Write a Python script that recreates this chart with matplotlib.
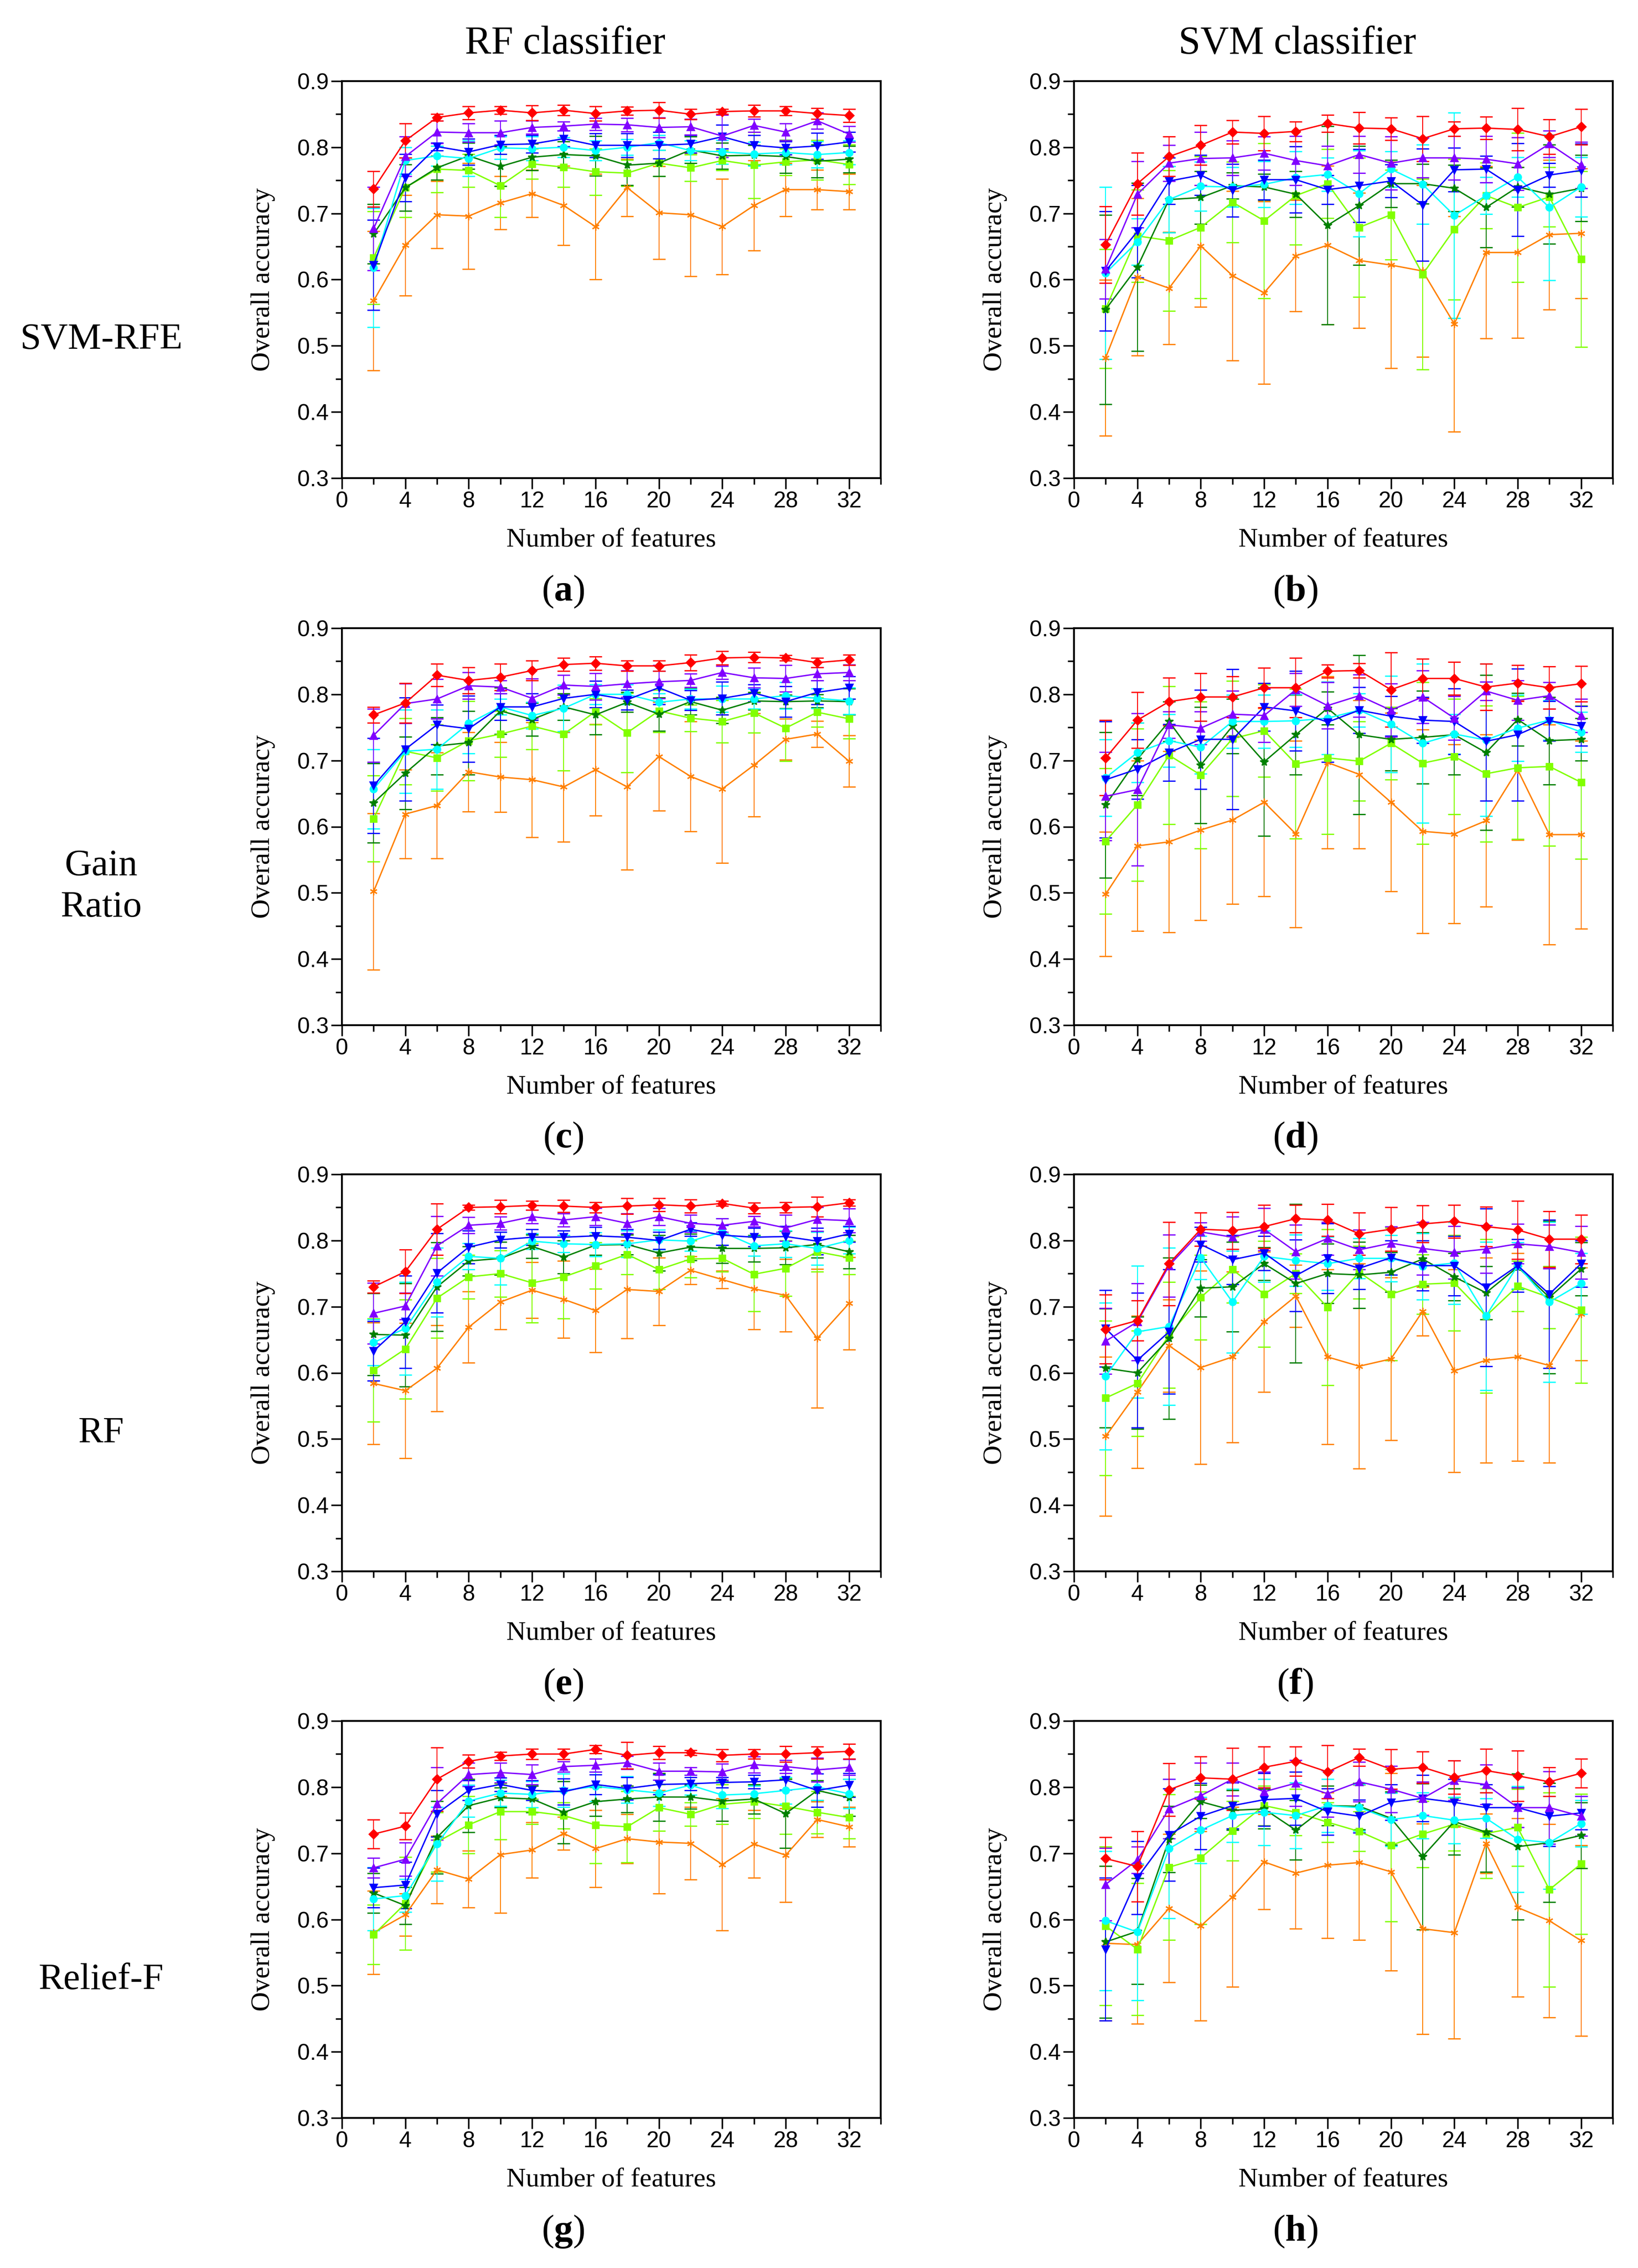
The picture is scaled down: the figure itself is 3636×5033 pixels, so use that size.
import matplotlib
matplotlib.use('Agg')
import matplotlib.pyplot as plt
from matplotlib.ticker import MultipleLocator, FormatStrFormatter

plt.rcParams['mathtext.fontset'] = 'custom'
plt.rcParams['mathtext.rm'] = 'Liberation Serif'
plt.rcParams['mathtext.bf'] = 'Liberation Serif:bold'

n_features = [2, 4, 6, 8, 10, 12, 14, 16, 18, 20, 22, 24, 26, 28, 30, 32]

# series order: red, violet, blue, cyan, green, lime, orange
acc_a = [
    [0.737, 0.810, 0.845, 0.852, 0.856, 0.852, 0.856, 0.851, 0.855, 0.856, 0.850, 0.854, 0.855, 0.855, 0.851, 0.848],
    [0.677, 0.786, 0.823, 0.822, 0.822, 0.830, 0.832, 0.835, 0.834, 0.830, 0.831, 0.817, 0.833, 0.823, 0.840, 0.820],
    [0.622, 0.754, 0.801, 0.793, 0.804, 0.805, 0.813, 0.803, 0.803, 0.803, 0.805, 0.816, 0.803, 0.799, 0.802, 0.808],
    [0.618, 0.780, 0.787, 0.783, 0.799, 0.798, 0.800, 0.795, 0.800, 0.807, 0.795, 0.793, 0.790, 0.792, 0.789, 0.792],
    [0.669, 0.739, 0.769, 0.787, 0.771, 0.785, 0.789, 0.787, 0.773, 0.776, 0.796, 0.787, 0.788, 0.786, 0.779, 0.782],
    [0.633, 0.739, 0.767, 0.765, 0.742, 0.775, 0.770, 0.763, 0.761, 0.776, 0.769, 0.780, 0.773, 0.778, 0.781, 0.774],
    [0.568, 0.652, 0.698, 0.696, 0.716, 0.730, 0.712, 0.680, 0.739, 0.701, 0.698, 0.680, 0.712, 0.736, 0.736, 0.733],
]
sd_a = [
    [0.027, 0.026, 0.005, 0.010, 0.006, 0.011, 0.008, 0.011, 0.006, 0.012, 0.008, 0.004, 0.009, 0.007, 0.008, 0.010],
    [0.063, 0.030, 0.017, 0.014, 0.018, 0.010, 0.007, 0.009, 0.010, 0.015, 0.012, 0.032, 0.010, 0.013, 0.012, 0.012],
    [0.068, 0.036, 0.006, 0.020, 0.014, 0.013, 0.012, 0.018, 0.018, 0.020, 0.013, 0.018, 0.015, 0.010, 0.020, 0.015],
    [0.090, 0.020, 0.015, 0.027, 0.017, 0.018, 0.015, 0.015, 0.012, 0.011, 0.015, 0.018, 0.018, 0.018, 0.020, 0.018],
    [0.045, 0.035, 0.018, 0.020, 0.030, 0.020, 0.020, 0.030, 0.030, 0.020, 0.020, 0.020, 0.015, 0.025, 0.025, 0.020],
    [0.070, 0.045, 0.035, 0.025, 0.048, 0.023, 0.030, 0.035, 0.020, 0.020, 0.020, 0.015, 0.050, 0.020, 0.030, 0.030],
    [0.105, 0.076, 0.051, 0.080, 0.040, 0.036, 0.060, 0.080, 0.043, 0.070, 0.093, 0.072, 0.068, 0.040, 0.030, 0.027],
]

acc_b = [
    [0.653, 0.745, 0.786, 0.803, 0.823, 0.821, 0.824, 0.836, 0.829, 0.828, 0.813, 0.828, 0.829, 0.827, 0.816, 0.831],
    [0.616, 0.729, 0.776, 0.783, 0.784, 0.791, 0.780, 0.772, 0.789, 0.776, 0.784, 0.784, 0.782, 0.775, 0.805, 0.773],
    [0.613, 0.673, 0.749, 0.758, 0.735, 0.751, 0.751, 0.736, 0.742, 0.749, 0.713, 0.766, 0.767, 0.736, 0.758, 0.765],
    [0.610, 0.657, 0.721, 0.741, 0.740, 0.744, 0.754, 0.759, 0.730, 0.767, 0.744, 0.697, 0.727, 0.755, 0.709, 0.740],
    [0.555, 0.619, 0.721, 0.724, 0.742, 0.740, 0.729, 0.682, 0.712, 0.745, 0.745, 0.738, 0.709, 0.740, 0.729, 0.738],
    [0.556, 0.666, 0.659, 0.679, 0.717, 0.689, 0.727, 0.745, 0.679, 0.698, 0.608, 0.676, 0.727, 0.709, 0.725, 0.631],
    [0.482, 0.604, 0.587, 0.651, 0.606, 0.580, 0.636, 0.652, 0.629, 0.622, 0.613, 0.533, 0.641, 0.641, 0.668, 0.670],
]
sd_b = [
    [0.058, 0.047, 0.030, 0.030, 0.018, 0.026, 0.015, 0.013, 0.024, 0.017, 0.034, 0.011, 0.017, 0.032, 0.026, 0.027],
    [0.045, 0.050, 0.027, 0.040, 0.026, 0.025, 0.037, 0.030, 0.028, 0.040, 0.030, 0.033, 0.035, 0.040, 0.020, 0.035],
    [0.090, 0.070, 0.035, 0.030, 0.040, 0.030, 0.050, 0.022, 0.055, 0.025, 0.085, 0.033, 0.020, 0.070, 0.018, 0.040],
    [0.130, 0.035, 0.050, 0.037, 0.030, 0.035, 0.040, 0.025, 0.065, 0.027, 0.060, 0.155, 0.028, 0.030, 0.110, 0.045],
    [0.143, 0.127, 0.050, 0.040, 0.020, 0.020, 0.035, 0.150, 0.090, 0.036, 0.030, 0.035, 0.060, 0.030, 0.075, 0.050],
    [0.090, 0.070, 0.106, 0.107, 0.061, 0.117, 0.074, 0.052, 0.105, 0.068, 0.144, 0.106, 0.050, 0.113, 0.045, 0.133],
    [0.118, 0.119, 0.085, 0.092, 0.128, 0.138, 0.084, 0.120, 0.102, 0.156, 0.130, 0.163, 0.130, 0.129, 0.113, 0.098],
]

acc_c = [
    [0.769, 0.787, 0.829, 0.821, 0.826, 0.836, 0.845, 0.847, 0.843, 0.843, 0.848, 0.855, 0.856, 0.855, 0.848, 0.852],
    [0.738, 0.786, 0.793, 0.813, 0.811, 0.794, 0.814, 0.812, 0.816, 0.819, 0.821, 0.833, 0.825, 0.824, 0.831, 0.833],
    [0.662, 0.717, 0.754, 0.748, 0.781, 0.781, 0.794, 0.800, 0.792, 0.810, 0.791, 0.794, 0.802, 0.789, 0.803, 0.810],
    [0.657, 0.714, 0.717, 0.756, 0.781, 0.768, 0.779, 0.800, 0.800, 0.788, 0.793, 0.793, 0.793, 0.798, 0.794, 0.790],
    [0.636, 0.681, 0.722, 0.727, 0.775, 0.762, 0.781, 0.769, 0.788, 0.770, 0.789, 0.776, 0.790, 0.789, 0.790, 0.789],
    [0.612, 0.714, 0.704, 0.730, 0.740, 0.752, 0.740, 0.774, 0.742, 0.775, 0.764, 0.759, 0.772, 0.749, 0.773, 0.763],
    [0.502, 0.619, 0.632, 0.683, 0.675, 0.671, 0.660, 0.686, 0.660, 0.706, 0.676, 0.657, 0.693, 0.732, 0.740, 0.699],
]
sd_c = [
    [0.012, 0.030, 0.017, 0.020, 0.020, 0.015, 0.010, 0.010, 0.008, 0.008, 0.012, 0.010, 0.008, 0.004, 0.007, 0.008],
    [0.040, 0.030, 0.030, 0.020, 0.010, 0.030, 0.015, 0.020, 0.020, 0.025, 0.010, 0.010, 0.015, 0.020, 0.010, 0.012],
    [0.072, 0.078, 0.030, 0.050, 0.020, 0.020, 0.015, 0.020, 0.015, 0.025, 0.015, 0.025, 0.013, 0.023, 0.018, 0.017],
    [0.060, 0.063, 0.060, 0.045, 0.012, 0.020, 0.035, 0.015, 0.015, 0.013, 0.015, 0.020, 0.015, 0.020, 0.015, 0.020],
    [0.060, 0.055, 0.043, 0.048, 0.035, 0.025, 0.020, 0.030, 0.015, 0.025, 0.020, 0.020, 0.013, 0.010, 0.010, 0.020],
    [0.065, 0.050, 0.050, 0.060, 0.035, 0.035, 0.055, 0.020, 0.060, 0.032, 0.020, 0.032, 0.030, 0.050, 0.022, 0.030],
    [0.118, 0.067, 0.080, 0.060, 0.053, 0.087, 0.083, 0.069, 0.125, 0.082, 0.083, 0.112, 0.078, 0.031, 0.020, 0.039],
]

acc_d = [
    [0.704, 0.761, 0.789, 0.796, 0.796, 0.810, 0.810, 0.835, 0.836, 0.807, 0.824, 0.824, 0.811, 0.817, 0.810, 0.816],
    [0.646, 0.656, 0.754, 0.749, 0.770, 0.768, 0.807, 0.783, 0.798, 0.776, 0.796, 0.764, 0.805, 0.791, 0.798, 0.768],
    [0.671, 0.687, 0.712, 0.732, 0.732, 0.781, 0.775, 0.758, 0.776, 0.767, 0.761, 0.759, 0.729, 0.739, 0.760, 0.752],
    [0.674, 0.712, 0.730, 0.720, 0.759, 0.759, 0.760, 0.764, 0.776, 0.755, 0.726, 0.740, 0.731, 0.749, 0.761, 0.743],
    [0.633, 0.702, 0.759, 0.693, 0.752, 0.698, 0.739, 0.779, 0.739, 0.732, 0.735, 0.739, 0.712, 0.762, 0.730, 0.732],
    [0.578, 0.633, 0.708, 0.678, 0.733, 0.745, 0.695, 0.704, 0.699, 0.726, 0.696, 0.706, 0.680, 0.689, 0.691, 0.667],
    [0.498, 0.571, 0.577, 0.595, 0.610, 0.637, 0.589, 0.697, 0.679, 0.637, 0.593, 0.589, 0.609, 0.686, 0.588, 0.588],
]
sd_d = [
    [0.057, 0.042, 0.036, 0.036, 0.031, 0.030, 0.045, 0.010, 0.011, 0.056, 0.030, 0.025, 0.035, 0.027, 0.032, 0.027],
    [0.067, 0.115, 0.020, 0.025, 0.035, 0.040, 0.025, 0.035, 0.032, 0.040, 0.040, 0.033, 0.014, 0.030, 0.020, 0.025],
    [0.088, 0.045, 0.043, 0.075, 0.106, 0.036, 0.060, 0.060, 0.035, 0.030, 0.035, 0.050, 0.090, 0.100, 0.030, 0.030],
    [0.058, 0.045, 0.040, 0.040, 0.040, 0.040, 0.040, 0.055, 0.025, 0.073, 0.120, 0.030, 0.115, 0.050, 0.030, 0.030],
    [0.110, 0.055, 0.030, 0.088, 0.041, 0.112, 0.060, 0.025, 0.120, 0.047, 0.070, 0.060, 0.117, 0.040, 0.066, 0.032],
    [0.110, 0.115, 0.104, 0.111, 0.087, 0.070, 0.113, 0.115, 0.060, 0.055, 0.122, 0.087, 0.103, 0.108, 0.120, 0.116],
    [0.094, 0.129, 0.137, 0.136, 0.127, 0.142, 0.141, 0.130, 0.112, 0.135, 0.154, 0.135, 0.130, 0.106, 0.166, 0.142],
]

acc_e = [
    [0.730, 0.753, 0.817, 0.850, 0.851, 0.853, 0.852, 0.850, 0.852, 0.854, 0.852, 0.856, 0.849, 0.850, 0.851, 0.857],
    [0.690, 0.701, 0.792, 0.823, 0.826, 0.836, 0.831, 0.836, 0.826, 0.836, 0.826, 0.823, 0.829, 0.819, 0.832, 0.830],
    [0.633, 0.677, 0.751, 0.790, 0.801, 0.805, 0.805, 0.807, 0.805, 0.800, 0.817, 0.808, 0.805, 0.806, 0.799, 0.810],
    [0.646, 0.667, 0.737, 0.776, 0.773, 0.799, 0.795, 0.794, 0.795, 0.801, 0.799, 0.813, 0.792, 0.795, 0.788, 0.800],
    [0.658, 0.657, 0.730, 0.769, 0.773, 0.791, 0.775, 0.793, 0.794, 0.781, 0.790, 0.788, 0.788, 0.789, 0.794, 0.783],
    [0.604, 0.636, 0.713, 0.745, 0.750, 0.736, 0.745, 0.762, 0.779, 0.756, 0.772, 0.773, 0.749, 0.758, 0.783, 0.774],
    [0.584, 0.573, 0.607, 0.669, 0.707, 0.725, 0.711, 0.694, 0.726, 0.723, 0.755, 0.741, 0.727, 0.717, 0.652, 0.705],
]
sd_e = [
    [0.009, 0.033, 0.039, 0.004, 0.010, 0.007, 0.009, 0.008, 0.012, 0.010, 0.010, 0.004, 0.008, 0.008, 0.015, 0.005],
    [0.046, 0.020, 0.045, 0.012, 0.010, 0.010, 0.010, 0.013, 0.015, 0.013, 0.013, 0.010, 0.008, 0.020, 0.018, 0.018],
    [0.045, 0.070, 0.060, 0.025, 0.012, 0.012, 0.010, 0.013, 0.012, 0.013, 0.010, 0.015, 0.014, 0.016, 0.020, 0.012],
    [0.035, 0.070, 0.052, 0.020, 0.040, 0.012, 0.013, 0.018, 0.020, 0.015, 0.015, 0.020, 0.015, 0.020, 0.025, 0.020],
    [0.062, 0.078, 0.067, 0.022, 0.025, 0.018, 0.025, 0.015, 0.015, 0.027, 0.020, 0.022, 0.020, 0.025, 0.020, 0.025],
    [0.078, 0.075, 0.060, 0.033, 0.035, 0.060, 0.063, 0.035, 0.030, 0.030, 0.028, 0.020, 0.056, 0.042, 0.030, 0.025],
    [0.092, 0.102, 0.065, 0.054, 0.041, 0.042, 0.058, 0.063, 0.074, 0.051, 0.021, 0.013, 0.061, 0.055, 0.105, 0.070],
]

acc_f = [
    [0.666, 0.679, 0.765, 0.817, 0.815, 0.821, 0.833, 0.831, 0.810, 0.817, 0.825, 0.829, 0.821, 0.816, 0.802, 0.802],
    [0.648, 0.677, 0.762, 0.813, 0.805, 0.817, 0.783, 0.803, 0.786, 0.796, 0.788, 0.782, 0.787, 0.795, 0.791, 0.782],
    [0.667, 0.619, 0.662, 0.794, 0.771, 0.781, 0.747, 0.773, 0.758, 0.774, 0.762, 0.762, 0.729, 0.762, 0.719, 0.765],
    [0.595, 0.662, 0.670, 0.774, 0.707, 0.776, 0.770, 0.765, 0.773, 0.773, 0.761, 0.766, 0.686, 0.762, 0.707, 0.735],
    [0.607, 0.600, 0.652, 0.728, 0.730, 0.765, 0.735, 0.750, 0.748, 0.752, 0.772, 0.745, 0.721, 0.760, 0.714, 0.757],
    [0.562, 0.584, 0.657, 0.714, 0.756, 0.719, 0.750, 0.699, 0.752, 0.719, 0.734, 0.736, 0.686, 0.731, 0.714, 0.695],
    [0.504, 0.571, 0.641, 0.608, 0.624, 0.677, 0.716, 0.624, 0.610, 0.621, 0.693, 0.603, 0.619, 0.624, 0.611, 0.689],
]
sd_f = [
    [0.052, 0.030, 0.063, 0.025, 0.028, 0.033, 0.021, 0.024, 0.032, 0.033, 0.028, 0.025, 0.030, 0.044, 0.042, 0.037],
    [0.050, 0.058, 0.047, 0.014, 0.031, 0.032, 0.041, 0.025, 0.030, 0.025, 0.040, 0.040, 0.036, 0.030, 0.033, 0.040],
    [0.058, 0.102, 0.094, 0.026, 0.037, 0.026, 0.054, 0.053, 0.032, 0.026, 0.038, 0.045, 0.119, 0.040, 0.112, 0.035],
    [0.111, 0.100, 0.119, 0.033, 0.077, 0.039, 0.039, 0.040, 0.030, 0.035, 0.050, 0.062, 0.112, 0.035, 0.121, 0.046],
    [0.090, 0.085, 0.122, 0.043, 0.068, 0.025, 0.120, 0.045, 0.050, 0.030, 0.040, 0.036, 0.040, 0.034, 0.115, 0.040],
    [0.117, 0.080, 0.080, 0.064, 0.050, 0.080, 0.030, 0.118, 0.040, 0.100, 0.045, 0.072, 0.116, 0.038, 0.047, 0.110],
    [0.120, 0.115, 0.070, 0.146, 0.129, 0.106, 0.047, 0.132, 0.155, 0.123, 0.037, 0.153, 0.155, 0.157, 0.147, 0.070],
]

acc_g = [
    [0.729, 0.741, 0.812, 0.839, 0.847, 0.850, 0.850, 0.857, 0.848, 0.852, 0.852, 0.848, 0.850, 0.850, 0.852, 0.854],
    [0.678, 0.691, 0.775, 0.819, 0.822, 0.819, 0.831, 0.833, 0.837, 0.824, 0.824, 0.823, 0.834, 0.831, 0.826, 0.830],
    [0.648, 0.652, 0.760, 0.795, 0.804, 0.795, 0.793, 0.804, 0.798, 0.804, 0.805, 0.807, 0.808, 0.811, 0.795, 0.803],
    [0.631, 0.636, 0.714, 0.779, 0.791, 0.789, 0.795, 0.801, 0.796, 0.791, 0.803, 0.788, 0.790, 0.795, 0.800, 0.790],
    [0.640, 0.621, 0.724, 0.772, 0.784, 0.782, 0.762, 0.778, 0.782, 0.785, 0.785, 0.779, 0.782, 0.760, 0.795, 0.784],
    [0.577, 0.624, 0.717, 0.743, 0.763, 0.763, 0.757, 0.743, 0.740, 0.769, 0.759, 0.774, 0.778, 0.771, 0.762, 0.754],
    [0.580, 0.607, 0.675, 0.661, 0.698, 0.705, 0.730, 0.707, 0.722, 0.717, 0.715, 0.683, 0.714, 0.697, 0.751, 0.740],
]
sd_g = [
    [0.022, 0.020, 0.048, 0.010, 0.006, 0.008, 0.008, 0.006, 0.020, 0.010, 0.004, 0.009, 0.007, 0.012, 0.009, 0.011],
    [0.015, 0.025, 0.055, 0.018, 0.015, 0.015, 0.008, 0.010, 0.010, 0.013, 0.006, 0.012, 0.012, 0.010, 0.018, 0.012],
    [0.030, 0.035, 0.035, 0.015, 0.010, 0.015, 0.020, 0.015, 0.017, 0.015, 0.010, 0.008, 0.010, 0.015, 0.025, 0.018],
    [0.048, 0.025, 0.056, 0.024, 0.020, 0.020, 0.025, 0.022, 0.020, 0.020, 0.015, 0.020, 0.012, 0.020, 0.020, 0.022],
    [0.030, 0.028, 0.055, 0.040, 0.015, 0.020, 0.047, 0.022, 0.020, 0.036, 0.018, 0.030, 0.022, 0.052, 0.015, 0.028],
    [0.045, 0.070, 0.045, 0.043, 0.042, 0.019, 0.020, 0.058, 0.054, 0.035, 0.018, 0.030, 0.025, 0.042, 0.032, 0.032],
    [0.063, 0.032, 0.051, 0.043, 0.088, 0.042, 0.025, 0.058, 0.037, 0.078, 0.055, 0.100, 0.051, 0.071, 0.027, 0.030],
]

acc_h = [
    [0.692, 0.680, 0.796, 0.814, 0.812, 0.830, 0.839, 0.823, 0.845, 0.827, 0.830, 0.815, 0.825, 0.817, 0.808, 0.821],
    [0.653, 0.690, 0.767, 0.787, 0.812, 0.793, 0.806, 0.790, 0.808, 0.797, 0.783, 0.810, 0.804, 0.769, 0.769, 0.756],
    [0.555, 0.663, 0.728, 0.756, 0.772, 0.781, 0.783, 0.763, 0.756, 0.777, 0.783, 0.777, 0.769, 0.769, 0.756, 0.761],
    [0.598, 0.581, 0.707, 0.735, 0.757, 0.762, 0.757, 0.772, 0.769, 0.751, 0.757, 0.750, 0.753, 0.721, 0.716, 0.745],
    [0.566, 0.582, 0.721, 0.778, 0.765, 0.767, 0.735, 0.772, 0.771, 0.753, 0.695, 0.748, 0.732, 0.710, 0.716, 0.727],
    [0.590, 0.555, 0.679, 0.693, 0.734, 0.772, 0.762, 0.747, 0.733, 0.712, 0.729, 0.744, 0.730, 0.739, 0.645, 0.684],
    [0.564, 0.562, 0.617, 0.590, 0.634, 0.687, 0.670, 0.682, 0.686, 0.672, 0.586, 0.580, 0.715, 0.618, 0.598, 0.568],
]
sd_h = [
    [0.032, 0.053, 0.040, 0.032, 0.047, 0.031, 0.022, 0.040, 0.013, 0.030, 0.024, 0.025, 0.033, 0.038, 0.022, 0.022],
    [0.055, 0.020, 0.045, 0.050, 0.025, 0.030, 0.035, 0.035, 0.030, 0.035, 0.025, 0.030, 0.030, 0.030, 0.055, 0.030],
    [0.108, 0.055, 0.070, 0.050, 0.035, 0.040, 0.040, 0.035, 0.025, 0.027, 0.035, 0.035, 0.035, 0.030, 0.045, 0.025],
    [0.105, 0.103, 0.105, 0.050, 0.040, 0.050, 0.050, 0.040, 0.035, 0.040, 0.035, 0.035, 0.030, 0.080, 0.070, 0.035],
    [0.115, 0.080, 0.050, 0.025, 0.030, 0.030, 0.045, 0.030, 0.035, 0.040, 0.110, 0.050, 0.060, 0.110, 0.090, 0.050],
    [0.120, 0.100, 0.110, 0.100, 0.045, 0.030, 0.035, 0.030, 0.030, 0.115, 0.050, 0.040, 0.068, 0.058, 0.147, 0.106],
    [0.117, 0.120, 0.112, 0.143, 0.136, 0.072, 0.084, 0.110, 0.117, 0.149, 0.159, 0.160, 0.045, 0.135, 0.146, 0.144],
]

col_titles = ['RF classifier', 'SVM classifier']
row_titles = ['SVM-RFE', 'Gain\nRatio', 'RF', 'Relief-F']
panel_letters = ['a', 'b', 'c', 'd', 'e', 'f', 'g', 'h']

colors = ['#FF0000', '#8000FF', '#0000FF', '#00FFFF', '#008000', '#80FF00', '#FF8000']
markers = ['D', '^', 'v', 'o', '*', 's', (6, 2, 0)]
msizes = [10.5, 12, 12, 11, 13, 9.5, 12]

panels = [(acc_a, sd_a), (acc_b, sd_b), (acc_c, sd_c), (acc_d, sd_d),
          (acc_e, sd_e), (acc_f, sd_f), (acc_g, sd_g), (acc_h, sd_h)]

W, H = 3637, 5033
fig = plt.figure(figsize=(W / 100, H / 100), dpi=100)

col_left = [759, 2384]
row_top = [180, 1394, 2606, 3819]
ax_w, ax_h = 1196, 881

serif = 'Liberation Serif'
sans = 'Liberation Sans'

for i, (acc, sd) in enumerate(panels):
    r, c = i // 2, i % 2
    ax = fig.add_axes([col_left[c] / W, 1 - (row_top[r] + ax_h) / H, ax_w / W, ax_h / H])
    for k in range(len(acc) - 1, -1, -1):
        ax.errorbar(n_features, acc[k], yerr=sd[k], color=colors[k], ecolor=colors[k],
                    marker=markers[k], ms=msizes[k], mfc=colors[k], mec=colors[k],
                    mew=2, lw=2.2, elinewidth=1.5, capsize=10, capthick=1.8, zorder=3)
    ax.set_xlim(0, 34)
    ax.set_ylim(0.3, 0.9)
    ax.xaxis.set_major_locator(MultipleLocator(4))
    ax.xaxis.set_minor_locator(MultipleLocator(2))
    ax.yaxis.set_major_locator(MultipleLocator(0.1))
    ax.yaxis.set_minor_locator(MultipleLocator(0.05))
    ax.yaxis.set_major_formatter(FormatStrFormatter('%.1f'))
    ax.tick_params(which='both', direction='out', top=False, right=False, width=2.5)
    ax.tick_params(which='major', length=17, pad=4, labelsize=36)
    ax.tick_params(which='minor', length=10)
    for lab in ax.get_xticklabels() + ax.get_yticklabels():
        lab.set_fontfamily(sans)
    for sp in ax.spines.values():
        sp.set_linewidth(3)
    ax.set_xlabel('Number of features', fontfamily=serif, fontsize=43)
    ax.set_ylabel('Overall accuracy', fontfamily=serif, fontsize=43)
    ax.xaxis.set_label_coords(0.5, -0.125)
    ax.yaxis.set_label_coords(-0.124, 0.5)

    lx = [1250, 2875][c]
    ly = 1313 + r * 1213
    fig.text(lx / W, 1 - ly / H, r'($\mathbf{' + panel_letters[i] + r'}$)',
             fontfamily=serif, fontsize=60, ha='center', va='center')

for c, t in enumerate(col_titles):
    fig.text([1255, 2880][c] / W, 1 - 97 / H, t, fontfamily=serif, fontsize=63,
             ha='center', va='center')

for r, t in enumerate(row_titles):
    fig.text(225 / W, 1 - (755 + r * 1213) / H, t, fontfamily=serif, fontsize=60,
             ha='center', va='center', linespacing=1.3)

fig.savefig('out.png', dpi=100)
